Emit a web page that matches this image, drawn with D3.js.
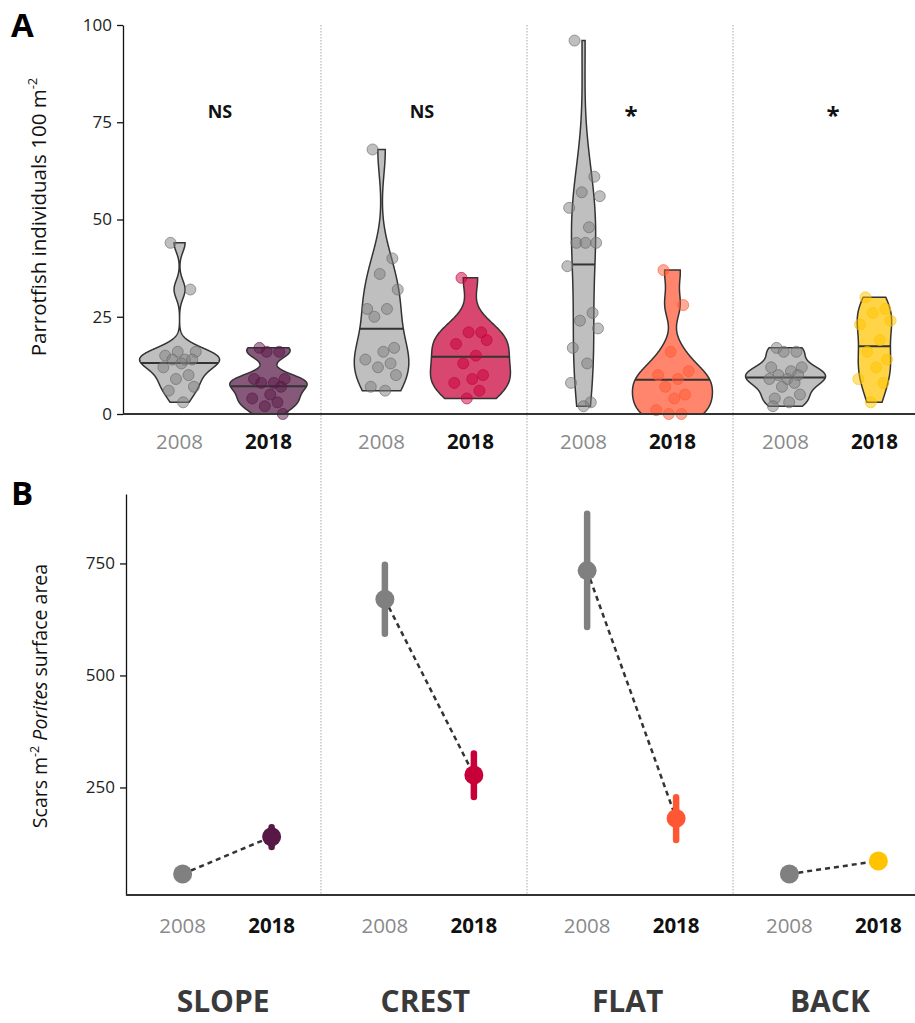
<!DOCTYPE html>
<html>
<head>
<meta charset="utf-8">
<script src="https://cdn.jsdelivr.net/npm/d3@7"></script>
<style>
  body { margin: 0; background: #fff; }
  text { font-family: "Open Sans", sans-serif; }
</style>
</head>
<body>
<svg id="fig" width="915" height="1023"></svg>
<script>
var sites = ["SLOPE", "CREST", "FLAT", "BACK"];
var years = ["2008", "2018"];
var siteColors = ["#581845", "#C70039", "#FF5733", "#FFC300"];
var greyColor = "#808080";

// panel A : parrotfish individuals 100 m-2, one value per transect
var fishSlope2008 = [44, 32, 16, 16, 15, 14, 14, 14, 13, 12, 10, 9, 7, 6, 3];
var fishSlope2018 = [17, 16, 16, 9, 9, 8, 8, 7, 5, 4, 3, 2, 0];
var fishCrest2008 = [68, 40, 36, 32, 27, 27, 25, 17, 16, 14, 13, 12, 10, 7, 6];
var fishCrest2018 = [35, 21, 21, 19, 18, 15, 13, 10, 9, 8, 6, 4];
var fishFlat2008 = [96, 61, 57, 56, 53, 48, 44, 44, 44, 38, 26, 24, 22, 17, 13, 8, 3, 2];
var fishFlat2018 = [37, 28, 16, 11, 10, 9, 7, 5, 4, 1, 0, 0];
var fishBack2008 = [17, 16, 16, 12, 12, 11, 10, 10, 9, 9, 8, 7, 5, 4, 3, 2];
var fishBack2018 = [30, 27, 26, 24, 23, 19, 16, 14, 12, 9, 8, 3];
var signif = ["NS", "NS", "*", "*"];
var fishTicks = [0, 25, 50, 75, 100];

// panel B : scars m-2 Porites surface area (mean and interval)
var scarMean2008 = [57, 670, 734, 57];
var scarLow2008 = [50, 593, 608, 51];
var scarHigh2008 = [63, 747, 861, 62];
var scarMean2018 = [140, 278, 181, 86];
var scarLow2018 = [117, 229, 133, 80];
var scarHigh2018 = [161, 326, 228, 92];
var scarTicks = [250, 500, 750];

// site boundaries (in site units)
var dividers = [1.48, 2.5, 3.52];

var fish = [
  [fishSlope2008, fishSlope2018],
  [fishCrest2008, fishCrest2018],
  [fishFlat2008, fishFlat2018],
  [fishBack2008, fishBack2018]
];

var svg = d3.select("#fig");
var dodge = 0.22;
var jit = [-0.5, 0.6, -0.1, 0.9, -0.8, 0.3, -0.4, 0.7, 0.1, -0.9, 0.5, -0.2, 0.8, -0.6, 0.2, -0.7, 0.4, 0];

var xA = d3.scaleLinear().domain([0.5, 4.5]).range([123, 931]);
var xB = d3.scaleLinear().domain([0.5, 4.5]).range([126, 935]);
var yA = d3.scaleLinear().domain([0, 100]).range([414, 25]);
var yB = d3.scaleLinear().domain([10, 905]).range([895, 494]);

function yearColor(s, yi) { return yi == 0 ? greyColor : siteColors[s]; }

// dotted separators across both panels
svg.append("g").selectAll("line").data(dividers).enter().append("line")
  .attr("x1", function(d) { return xA(d); }).attr("x2", function(d) { return xA(d); })
  .attr("y1", yA(100)).attr("y2", yB.range()[0])
  .attr("stroke", "#aaa").attr("stroke-width", 1).attr("stroke-dasharray", "1.5,1.5");

// ---------- panel A ----------
function nrd0(v) {
  var hi = d3.deviation(v), iqr = d3.quantile(v, 0.75) - d3.quantile(v, 0.25);
  var lo = Math.min(hi, iqr / 1.34);
  if (!lo) lo = hi || Math.abs(v[0]) || 1;
  return 0.9 * lo * Math.pow(v.length, -0.2);
}
function kde(v) {
  var bw = nrd0(v), lo = d3.min(v), hi = d3.max(v), n = 512;
  return d3.range(n).map(function(i) {
    var y = lo + (hi - lo) * i / (n - 1);
    var d = d3.mean(v, function(x) { return Math.exp(-0.5 * Math.pow((y - x) / bw, 2)); }) / (bw * Math.sqrt(2 * Math.PI));
    return {y: y, d: d};
  });
}

var violins = [];
fish.forEach(function(pair, s) {
  pair.forEach(function(v, yi) {
    var dens = kde(v);
    var tot = d3.sum(dens, function(d) { return d.d; }), c = 0, med = null;
    for (var i = 0; i < dens.length; i++) {
      var c2 = c + dens[i].d / tot;
      if (med === null && c2 >= 0.5) {
        var t = i == 0 ? 0 : (0.5 - c) / (c2 - c);
        var p = dens[Math.max(i - 1, 0)];
        med = {y: p.y + t * (dens[i].y - p.y), d: p.d + t * (dens[i].d - p.d)};
      }
      c = c2;
    }
    violins.push({site: s, year: yi, values: v, dens: dens, med: med});
  });
});

// each site is scaled on its own (area scaling within a site panel)
var siteMax = sites.map(function(s, i) {
  return d3.max(violins.filter(function(v) { return v.site == i; }), function(v) {
    return d3.max(v.dens, function(d) { return d.d; });
  });
});

var gA = svg.append("g");
violins.forEach(function(v) {
  var cx = xA(v.site + 1 + (v.year == 0 ? -dodge : dodge));
  var w = d3.scaleLinear().domain([0, siteMax[v.site]]).range([0, 40]);
  var area = d3.area()
    .y(function(d) { return yA(d.y); })
    .x0(function(d) { return cx - w(d.d); })
    .x1(function(d) { return cx + w(d.d); });
  gA.append("path").datum(v.dens)
    .attr("d", area)
    .attr("fill", v.year == 0 ? "#bfbfbf" : yearColor(v.site, 1))
    .attr("fill-opacity", v.year == 0 ? 1 : 0.72)
    .attr("stroke", "#333").attr("stroke-width", 1.5);
  gA.append("line")
    .attr("x1", cx - w(v.med.d)).attr("x2", cx + w(v.med.d))
    .attr("y1", yA(v.med.y)).attr("y2", yA(v.med.y))
    .attr("stroke", "#333").attr("stroke-width", 2);
  gA.append("g").selectAll("circle").data(v.values).enter().append("circle")
    .attr("cx", function(d, i) { return cx + jit[i % jit.length] * 18; })
    .attr("cy", function(d) { return yA(d); })
    .attr("r", 5.5)
    .attr("fill", yearColor(v.site, v.year)).attr("fill-opacity", 0.5)
    .attr("stroke", v.year == 0 ? "#666" : yearColor(v.site, 1)).attr("stroke-opacity", 0.6);
});

// significance labels
svg.append("g").selectAll("text").data(signif).enter().append("text")
  .attr("x", function(d, i) { return xA(i + 1) + (d == "*" ? 3 : -4); })
  .attr("y", function(d) { return d == "*" ? yA(74.5) : yA(76); })
  .attr("text-anchor", "middle")
  .style("font-size", function(d) { return d == "*" ? "24px" : "18px"; })
  .style("font-weight", "bold").attr("fill", "#111")
  .text(function(d) { return d; });

// axes A
var axA = svg.append("g").attr("transform", "translate(" + xA.range()[0] + ",0)")
  .call(d3.axisLeft(yA).tickValues(fishTicks).tickSize(6).tickPadding(5).tickSizeOuter(0));
axA.select(".domain").attr("stroke", "#111").attr("stroke-width", 1.3);
axA.selectAll(".tick line").attr("stroke", "#111").attr("stroke-width", 1.3);
axA.selectAll(".tick text").style("font-size", "17px").attr("fill", "#222");
svg.append("line").attr("x1", xA.range()[0]).attr("x2", 915)
  .attr("y1", yA(0)).attr("y2", yA(0)).attr("stroke", "#333").attr("stroke-width", 2);

// ---------- panel B ----------
var scar = sites.map(function(s, i) {
  return [
    {mean: scarMean2008[i], lo: scarLow2008[i], hi: scarHigh2008[i]},
    {mean: scarMean2018[i], lo: scarLow2018[i], hi: scarHigh2018[i]}
  ];
});
var gB = svg.append("g");
scar.forEach(function(pair, s) {
  var x0 = xB(s + 1 - dodge), x1 = xB(s + 1 + dodge);
  gB.append("line")
    .attr("x1", x0).attr("y1", yB(pair[0].mean))
    .attr("x2", x1).attr("y2", yB(pair[1].mean))
    .attr("stroke", "#333").attr("stroke-width", 2.5).attr("stroke-dasharray", "5,4");
  pair.forEach(function(d, yi) {
    var cx = yi == 0 ? x0 : x1;
    gB.append("line")
      .attr("x1", cx).attr("x2", cx).attr("y1", yB(d.lo)).attr("y2", yB(d.hi))
      .attr("stroke", yearColor(s, yi)).attr("stroke-width", 6.5).attr("stroke-linecap", "round");
    gB.append("circle").attr("cx", cx).attr("cy", yB(d.mean)).attr("r", 9.5)
      .attr("fill", yearColor(s, yi));
  });
});

var axB = svg.append("g").attr("transform", "translate(" + xB.range()[0] + ",0)")
  .call(d3.axisLeft(yB).tickValues(scarTicks).tickSize(6).tickPadding(5).tickSizeOuter(0));
axB.select(".domain").attr("stroke", "#111").attr("stroke-width", 1.3);
axB.selectAll(".tick line").attr("stroke", "#111").attr("stroke-width", 1.3);
axB.selectAll(".tick text").style("font-size", "17px").attr("fill", "#222");
svg.append("line").attr("x1", xB.range()[0]).attr("x2", 915)
  .attr("y1", yB.range()[0]).attr("y2", yB.range()[0]).attr("stroke", "#333").attr("stroke-width", 2);

// year labels for both panels
[[xA, 449], [xB, 933]].forEach(function(p) {
  sites.forEach(function(s, i) {
    years.forEach(function(yr, yi) {
      svg.append("text")
        .attr("x", p[0](i + 1 + (yi == 0 ? -dodge : dodge)))
        .attr("y", p[1])
        .attr("text-anchor", "middle")
        .style("font-size", "20.5px")
        .style("font-weight", yi == 0 ? "normal" : "bold")
        .attr("fill", yi == 0 ? "#8a8a8a" : "#111")
        .text(yr);
    });
  });
});

// site labels
svg.append("g").selectAll("text").data(sites).enter().append("text")
  .attr("x", function(d, i) { return xB(i + 1) - 4; })
  .attr("y", 1012)
  .attr("text-anchor", "middle")
  .style("font-size", "30px").style("font-weight", "bold").attr("fill", "#3a3a3a")
  .text(function(d) { return d; });

// panel letters
svg.append("text").attr("x", 11).attr("y", 37).style("font-size", "33px").style("font-weight", "bold").text("A");
svg.append("text").attr("x", 11).attr("y", 505).style("font-size", "33px").style("font-weight", "bold").text("B");

// y titles
var tA = svg.append("text").attr("transform", "translate(46,217) rotate(-90)")
  .attr("text-anchor", "middle").style("font-size", "20.5px").attr("fill", "#111");
tA.append("tspan").text("Parrotfish individuals 100 m");
tA.append("tspan").attr("dy", -9).style("font-size", "13px").text("-2");

var tB = svg.append("text").attr("transform", "translate(47,696) rotate(-90)")
  .attr("text-anchor", "middle").style("font-size", "19.5px").attr("fill", "#111");
tB.append("tspan").text("Scars m");
tB.append("tspan").attr("dy", -8).style("font-size", "12.5px").text("-2");
tB.append("tspan").attr("dy", 8).text(" ");
tB.append("tspan").style("font-style", "italic").text("Porites");
tB.append("tspan").text(" surface area");
</script>
</body>
</html>
